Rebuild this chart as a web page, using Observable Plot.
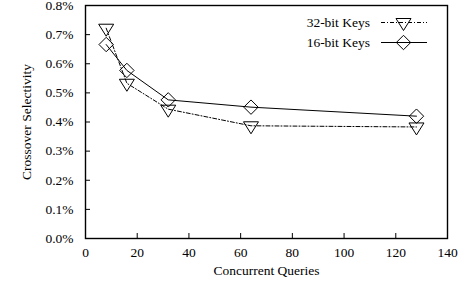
<!DOCTYPE html>
<html>
<head>
<meta charset="utf-8">
<script src="https://cdn.jsdelivr.net/npm/d3@7"></script>
<script src="https://cdn.jsdelivr.net/npm/@observablehq/plot@0.6"></script>
<style>
  html, body { margin: 0; padding: 0; background: #fff; }
  svg { display: block; }
</style>
</head>
<body>
<div id="chart"></div>
<script>
const queries = [8, 16, 32, 64, 128];
const keys32 = [0.722, 0.533, 0.444, 0.387, 0.383];
const keys16 = [0.666, 0.577, 0.476, 0.451, 0.420];
const seriesNames = ["32-bit Keys", "16-bit Keys"];
const xTicks = [0, 20, 40, 60, 80, 100, 120, 140];
const yTicks = [0, 0.1, 0.2, 0.3, 0.4, 0.5, 0.6, 0.7, 0.8];

const triDown = {
  draw(ctx) {
    const w = 7.5, h = 12;
    ctx.moveTo(-w, -h / 3);
    ctx.lineTo(w, -h / 3);
    ctx.lineTo(0, 2 * h / 3);
    ctx.closePath();
  }
};
const diamond = {
  draw(ctx) {
    const r = 7.2;
    ctx.moveTo(0, -r);
    ctx.lineTo(r, 0);
    ctx.lineTo(0, r);
    ctx.lineTo(-r, 0);
    ctx.closePath();
  }
};

const d32 = queries.map((q, i) => ({x: q, y: keys32[i]}));
const d16 = queries.map((q, i) => ({x: q, y: keys16[i]}));

const W = 466, H = 281;
const mL = 85, mR = 19, mT = 5, mB = 43;
const font = "Liberation Serif, Times New Roman, serif";

const chart = Plot.plot({
  width: W,
  height: H,
  marginLeft: mL,
  marginRight: mR,
  marginTop: mT,
  marginBottom: mB,
  style: {fontFamily: font, fontSize: "13.5px", color: "#000", background: "#fff"},
  x: {domain: [0, 140]},
  y: {domain: [0, 0.8]},
  marks: [
    Plot.axisX({ticks: xTicks, tickSize: -5, tickPadding: 14, tickFormat: d => String(d),
      label: "Concurrent Queries", labelAnchor: "center", labelOffset: 36, labelArrow: "none", strokeWidth: 1}),
    Plot.axisY({ticks: yTicks, tickSize: -5, tickPadding: 17, tickFormat: d => d.toFixed(1) + "%",
      label: "Crossover Selectivity", labelAnchor: "center", labelOffset: 64, labelArrow: "none", strokeWidth: 1}),
    Plot.frame({stroke: "#000", strokeWidth: 1.4}),
    Plot.line(d32, {x: "x", y: "y", stroke: "#000", strokeWidth: 1, strokeDasharray: "4,2,1,2"}),
    Plot.line(d16, {x: "x", y: "y", stroke: "#000", strokeWidth: 1}),
    Plot.dot(d32, {x: "x", y: "y", symbol: triDown, stroke: "#000", fill: "none", strokeWidth: 1}),
    Plot.dot(d16, {x: "x", y: "y", symbol: diamond, stroke: "#000", fill: "none", strokeWidth: 1})
  ]
});

// Legend inside plot, top-right
const svg = d3.select(chart);
const lg = svg.append("g").attr("font-family", font).attr("font-size", "13.5px");
const rows = [
  {name: seriesNames[0], dash: "4,2,1,2", sym: triDown, y: 22.5},
  {name: seriesNames[1], dash: null, sym: diamond, y: 42.5}
];
rows.forEach(r => {
  lg.append("text").attr("x", 370).attr("y", r.y).attr("dy", "0.35em")
    .attr("text-anchor", "end").attr("fill", "#000").text(r.name);
  const ln = lg.append("line").attr("x1", 381).attr("x2", 427).attr("y1", r.y).attr("y2", r.y)
    .attr("stroke", "#000").attr("stroke-width", 1);
  if (r.dash) ln.attr("stroke-dasharray", r.dash);
  lg.append("path").attr("d", d3.symbol(r.sym)()).attr("transform", `translate(403.5,${r.y})`)
    .attr("fill", "none").attr("stroke", "#000").attr("stroke-width", 1);
});

document.getElementById("chart").appendChild(chart);
</script>
</body>
</html>
